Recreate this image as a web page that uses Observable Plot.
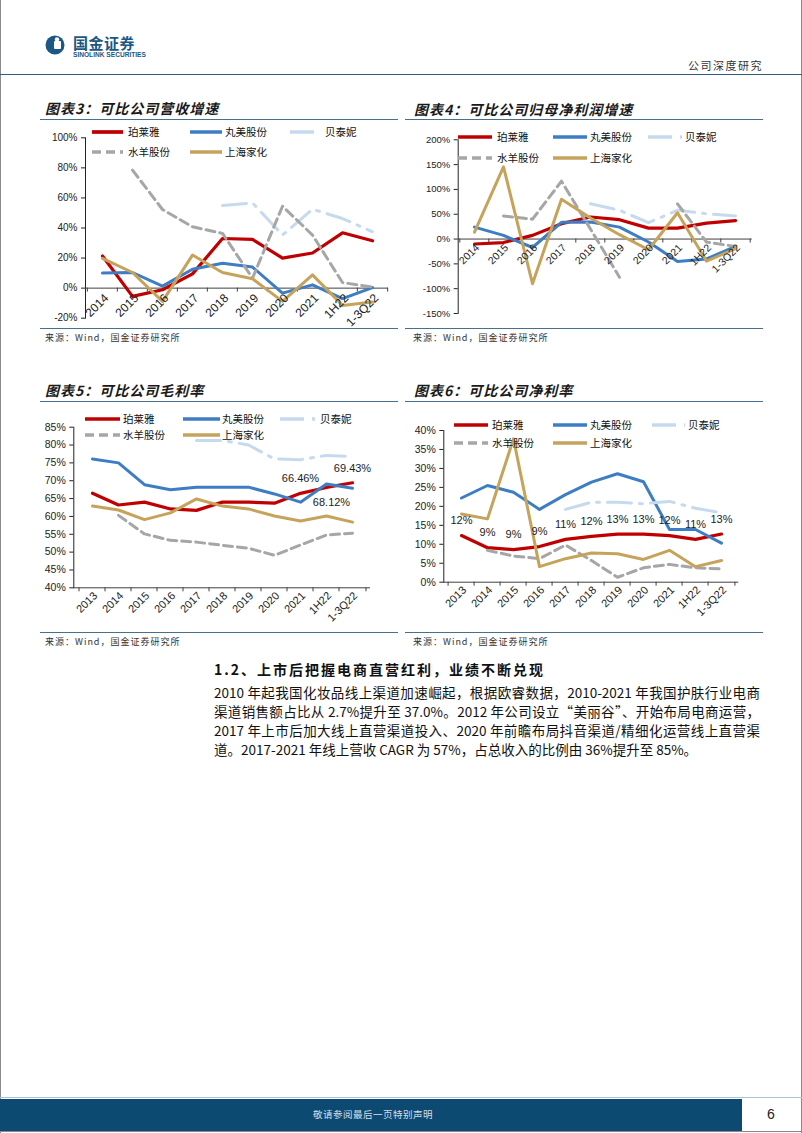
<!DOCTYPE html>
<html><head><meta charset="utf-8">
<script src="https://cdn.jsdelivr.net/npm/d3@7"></script>
<script src="https://cdn.jsdelivr.net/npm/@observablehq/plot@0.6"></script>
<style>
body{margin:0;background:#fff;}
#page{position:relative;width:802px;height:1133px;overflow:hidden;font-family:"Noto Sans CJK SC","Noto Sans",sans-serif;color:#111;}
.abs{position:absolute;white-space:nowrap;}
.title{position:absolute;font-weight:bold;font-style:italic;font-size:14px;letter-spacing:1px;color:#1a1a1a;line-height:18px;white-space:nowrap;}
.rule{position:absolute;height:0;border-top:1.5px solid #44718f;}
.src{position:absolute;font-size:9px;color:#333;letter-spacing:1px;line-height:12px;white-space:nowrap;}
.leg{position:absolute;font-size:10.5px;color:#111;white-space:nowrap;line-height:12px;}
.plot{position:absolute;}
.para{position:absolute;left:214px;width:546px;font-size:13.5px;line-height:19px;color:#111;text-align:justify;text-align-last:justify;white-space:nowrap;}
.para.last{text-align-last:left;}
</style>
</head><body>
<div id="page">
  <div class="abs" style="left:0;top:0;width:0;height:1133px;border-left:1px solid #8a8a8a;"></div>
  <div class="abs" style="left:801px;top:0;width:0;height:1133px;border-left:1px solid #8a8a8a;"></div>
  <svg class="abs" style="left:45px;top:35px" width="20" height="20" viewBox="0 0 20 20">
    <circle cx="10" cy="10" r="9.5" fill="#1d5783"/>
    <rect x="9" y="6" width="7" height="8" rx="1" fill="#fff"/>
    <circle cx="12" cy="4.5" r="2.2" fill="#fff"/>
  </svg>
  <div class="abs" style="left:73px;top:34px;font-size:15px;font-weight:bold;color:#1d5783;letter-spacing:0.5px;line-height:17px;">国金证券</div>
  <div class="abs" style="left:73px;top:51px;font-size:6.6px;font-weight:bold;color:#1d5783;font-family:'Liberation Sans',Arial,sans-serif;line-height:8px;">SINOLINK SECURITIES</div>
  <div class="abs" style="left:688px;top:58px;font-size:11px;color:#333;letter-spacing:1.5px;line-height:14px;">公司深度研究</div>
  <div class="abs" style="left:0;top:74px;width:802px;height:0;border-top:1.5px solid #2f5b7c;"></div>

  <div class="title" style="left:45px;top:99px;">图表3：可比公司营收增速</div>
  <div class="rule" style="left:40px;top:119px;width:358px;"></div>
  <div class="title" style="left:414px;top:100px;">图表4：可比公司归母净利润增速</div>
  <div class="rule" style="left:405px;top:119px;width:358px;"></div>
  <div class="rule" style="left:40px;top:328px;width:358px;"></div>
  <div class="rule" style="left:405px;top:328px;width:358px;"></div>
  <div class="src" style="left:45px;top:332px;">来源：Wind，国金证券研究所</div>
  <div class="src" style="left:413px;top:332px;">来源：Wind，国金证券研究所</div>

  <div class="title" style="left:45px;top:381px;">图表5：可比公司毛利率</div>
  <div class="rule" style="left:40px;top:401px;width:358px;"></div>
  <div class="title" style="left:414px;top:381px;">图表6：可比公司净利率</div>
  <div class="rule" style="left:405px;top:401px;width:358px;"></div>
  <div class="rule" style="left:40px;top:632px;width:358px;"></div>
  <div class="rule" style="left:405px;top:632px;width:358px;"></div>
  <div class="src" style="left:45px;top:636px;">来源：Wind，国金证券研究所</div>
  <div class="src" style="left:413px;top:636px;">来源：Wind，国金证券研究所</div>

  <div class="abs" style="left:214px;top:660px;font-size:14px;font-weight:bold;letter-spacing:2px;line-height:18px;">1.2、上市后把握电商直营红利，业绩不断兑现</div>
  <div class="para" style="top:683px;">2010 年起我国化妆品线上渠道加速崛起，根据欧睿数据，2010-2021 年我国护肤行业电商</div>
  <div class="para" style="top:702px;">渠道销售额占比从 2.7%提升至 37.0%。2012 年公司设立“美丽谷”、开始布局电商运营，</div>
  <div class="para" style="top:721px;">2017 年上市后加大线上直营渠道投入、2020 年前瞻布局抖音渠道/精细化运营线上直营渠</div>
  <div class="para last" style="top:740px;">道。2017-2021 年线上营收 CAGR 为 57%，占总收入的比例由 36%提升至 85%。</div>

  <div class="abs" style="left:0;top:1097px;width:802px;height:0;border-top:1px solid #a9c3d6;"></div>
  <div class="abs" style="left:0;top:1099px;width:742px;height:32px;background:#0d4a72;"></div>
  <div class="abs" style="left:313px;top:1108px;font-size:9.5px;color:#d5dfe8;letter-spacing:0.5px;line-height:12px;">敬请参阅最后一页特别声明</div>
  <div class="abs" style="left:767px;top:1106px;font-size:14px;color:#222;font-family:'Liberation Sans',Arial,sans-serif;line-height:16px;">6</div>
  <div class="abs" style="left:0;top:1131px;width:802px;height:0;border-top:1.5px solid #8a8a8a;"></div>
</div>
<script>
// ---------- data ----------
const names = ["珀莱雅", "丸美股份", "贝泰妮", "水羊股份", "上海家化"];
const colors = ["#C00000", "#3D7DC3", "#C6DAEE", "#A6A6A6", "#C6A35B"];
const widths = [3.2, 3, 3, 3, 3];
const dashes = [null, null, "24,8,3,8", "9,5", null];

const cats10 = ["2014", "2015", "2016", "2017", "2018", "2019", "2020", "2021", "1H22", "1-3Q22"];
const cats11 = ["2013", "2014", "2015", "2016", "2017", "2018", "2019", "2020", "2021", "1H22", "1-3Q22"];

// 图表3 营收增速 (%)
const rev_proya    = [21.4, -5.5, -1.1, 9.5, 33.0, 32.4, 20.0, 23.4, 36.8, 31.5];
const rev_marubi   = [10.0, 10.4, 1.3, 12.6, 16.5, 14.0, -3.3, 2.2, -7.0, 0.4];
const rev_botanee  = [null, null, null, null, 55.0, 56.7, 35.3, 52.5, 46.3, 37.5];
const rev_yujiahui = [null, 78.5, 52.3, 40.8, 36.4, 6.6, 54.5, 35.3, 3.7, 0.7];
const rev_jahwa    = [19.8, 10.4, -8.8, 22.0, 10.4, 6.2, -8.8, 8.8, -11.5, -9.3];
const rev_ticks = [-20, 0, 20, 40, 60, 80, 100];

// 图表4 归母净利润增速 (%)
const np_proya    = [-10, -7, 7.4, 31, 44.5, 39, 22, 22, 32, 37];
const np_marubi   = [24, 7.4, -17, 33.7, 34.4, 24, -6, -45, -40, -15];
const np_botanee  = [null, null, null, null, 71, 58, 33, 58, 51, 46.5];
const np_yujiahui = [null, 46.5, 40, 116.6, 20, -77, null, 71, -6, -15];
const np_jahwa    = [14, 145.5, -90, 80, 42.5, 8.8, -21.6, 53, -44.5, -19.5];
const np_ticks = [-150, -100, -50, 0, 50, 100, 150, 200];

// 图表5 毛利率 (%)
const gm_proya    = [66.5, 63.2, 64.0, 62.1, 61.7, 64.0, 64.0, 63.7, 66.46, 68.12, 69.43];
const gm_marubi   = [76.1, 75.0, 68.9, 67.5, 68.2, 68.2, 68.2, 66.3, 64.0, 69.1, 67.9];
const gm_botanee  = [null, null, null, null, 81.3, 81.3, 80.0, 76.1, 75.9, 77.1, 76.8];
const gm_yujiahui = [null, 60.3, 55.1, 53.3, 52.8, 51.9, 51.1, 49.1, 52.0, 54.8, 55.3];
const gm_jahwa    = [62.9, 61.8, 59.1, 61.0, 64.9, 62.9, 62.1, 60.1, 58.7, 60.1, 58.4];
const gm_ticks = [40, 45, 50, 55, 60, 65, 70, 75, 80, 85];
const gm_label_cats = ["2021", "1H22", "1-3Q22"];

// 图表6 净利率 (%)
const nm_proya    = [12.3, 9.1, 8.6, 9.4, 11.3, 12.1, 12.7, 12.7, 12.3, 11.3, 12.7];
const nm_marubi   = [22.2, 25.5, 23.7, 19.2, 23.1, 26.4, 28.6, 26.5, 13.9, 13.9, 10.3];
const nm_botanee  = [null, null, null, null, 19.2, 21.1, 21.1, 20.7, 21.3, 19.5, 18.3];
const nm_yujiahui = [null, 8.4, 6.9, 6.2, 9.8, 5.7, 1.3, 3.8, 4.7, 3.8, 3.5];
const nm_jahwa    = [18.0, 16.7, 37.8, 4.1, 6.2, 7.7, 7.5, 6.0, 8.4, 4.1, 5.7];
const nm_ticks = [0, 5, 10, 15, 20, 25, 30, 35, 40];

// ---------- helpers ----------
const page = document.getElementById("page");
const numFont = "'Liberation Sans', Arial, sans-serif";

function makeChart(o) {
  const rows = [];
  o.series.forEach((vals, i) => vals.forEach((v, j) => rows.push({cat: o.cats[j], name: names[i], value: v})));
  const step = (o.width - o.ml - o.mr) / o.cats.length;
  const base = o.base;
  const marks = [
    Plot.ruleY([base], {stroke: "#404040", strokeWidth: 1}),
    Plot.ruleX(o.cats, {x: d => d, y1: () => base, y2: () => base, insetBottom: -4, dx: -step / 2, stroke: "#404040"}),
    Plot.ruleX(o.cats.slice(-1), {x: d => d, y1: () => base, y2: () => base, insetBottom: -4, dx: step / 2, stroke: "#404040"})
  ];
  names.forEach((n, i) => {
    const opt = {x: "cat", y: "value", stroke: colors[i], strokeWidth: widths[i]};
    if (dashes[i]) opt.strokeDasharray = dashes[i];
    marks.push(Plot.line(rows.filter(r => r.name === n), opt));
  });
  marks.push(Plot.text(o.cats, {x: d => d, y: () => base, text: d => d, rotate: -45, textAnchor: "end",
    dx: o.ldx, dy: o.ldy, fontSize: o.xfs, fill: "#222", fontFamily: numFont}));
  (o.extra || []).forEach(m => marks.push(m));
  const svg = Plot.plot({
    width: o.width, height: o.height,
    marginLeft: o.ml, marginRight: o.mr, marginTop: o.mt, marginBottom: o.mb,
    style: {fontFamily: numFont, fontSize: o.yfs + "px", color: "#222", background: "transparent", overflow: "visible"},
    x: {type: "point", domain: o.cats, padding: 0.5, axis: null},
    y: {domain: o.yDomain, ticks: o.yTicks, tickFormat: d => d + "%", tickSize: 4, tickPadding: 4, line: true, label: null},
    marks
  });
  svg.classList.add("plot");
  svg.style.left = o.left + "px";
  svg.style.top = o.top + "px";
  page.appendChild(svg);
}

function legend(cols, y1, y2) {
  const pos = [[cols[0], y1], [cols[1], y1], [cols[2], y1], [cols[0], y2], [cols[1], y2]];
  names.forEach((n, i) => {
    const [c, y] = pos[i];
    const w = c[1] - c[0];
    const s = document.createElementNS("http://www.w3.org/2000/svg", "svg");
    s.setAttribute("width", w); s.setAttribute("height", 6);
    s.style.position = "absolute"; s.style.left = c[0] + "px"; s.style.top = (y - 3) + "px";
    const l = document.createElementNS("http://www.w3.org/2000/svg", "line");
    l.setAttribute("x1", 0); l.setAttribute("x2", w); l.setAttribute("y1", 3); l.setAttribute("y2", 3);
    l.setAttribute("stroke", colors[i]); l.setAttribute("stroke-width", widths[i] + 0.5);
    if (dashes[i]) l.setAttribute("stroke-dasharray", dashes[i]);
    s.appendChild(l); page.appendChild(s);
    const t = document.createElement("div");
    t.className = "leg"; t.textContent = n;
    t.style.left = c[2] + "px"; t.style.top = (y - 6) + "px";
    page.appendChild(t);
  });
}

// ---------- charts ----------
makeChart({left: 40, top: 125, width: 358, height: 200, ml: 45, mr: 10, mt: 12.3, mb: 7.3,
  cats: cats10, series: [rev_proya, rev_marubi, rev_botanee, rev_yujiahui, rev_jahwa],
  yDomain: [-20, 100], yTicks: rev_ticks, base: 0, yfs: 10, xfs: 12, ldx: 4, ldy: 8});

makeChart({left: 405, top: 125, width: 358, height: 200, ml: 52.7, mr: 11.3, mt: 14.3, mb: 12,
  cats: cats10, series: [np_proya, np_marubi, np_botanee, np_yujiahui, np_jahwa],
  yDomain: [-150, 200], yTicks: np_ticks, base: 0, yfs: 9.5, xfs: 10.5, ldx: 3, ldy: 7});

const gmLabels = gm_label_cats.map(c => ({cat: c, value: gm_proya[cats11.indexOf(c)]}));
makeChart({left: 40, top: 410, width: 358, height: 215, ml: 33.3, mr: 28, mt: 16.7, mb: 37.7,
  cats: cats11, series: [gm_proya, gm_marubi, gm_botanee, gm_yujiahui, gm_jahwa],
  yDomain: [40, 85], yTicks: gm_ticks, base: 40, yfs: 10.5, xfs: 11, ldx: 3, ldy: 6,
  extra: [
    Plot.text(gmLabels.filter(d => d.cat !== "1H22"), {x: "cat", y: "value", text: d => d.value.toFixed(2) + "%", dy: -14.5, fontSize: 11, fill: "#222", fontFamily: numFont}),
    Plot.text(gmLabels.filter(d => d.cat === "1H22"), {x: "cat", y: "value", text: d => d.value.toFixed(2) + "%", dx: 5, dy: 15, fontSize: 11, fill: "#222", fontFamily: numFont})
  ]});

makeChart({left: 405, top: 410, width: 358, height: 215, ml: 38.3, mr: 24.7, mt: 20, mb: 43.3,
  cats: cats11, series: [nm_proya, nm_marubi, nm_botanee, nm_yujiahui, nm_jahwa],
  yDomain: [0, 40], yTicks: nm_ticks, base: 0, yfs: 10.5, xfs: 11, ldx: 3, ldy: 6,
  extra: [
    Plot.text(nm_proya.map((v, j) => ({cat: cats11[j], value: v})), {x: "cat", y: "value", text: d => Math.round(d.value) + "%", dy: -15, fontSize: 11, fill: "#222", fontFamily: numFont})
  ]});

legend([[92, 123, 128], [190, 222, 225], [290, 320, 325]], 132.3, 152.3);
legend([[458, 492, 497], [553, 587, 590], [648, 682, 685]], 137.3, 158.3);
legend([[85, 120, 123], [183, 220, 222], [280, 317, 320]], 419.3, 435);
legend([[454, 488, 492], [553, 587, 590], [652, 685, 688]], 425, 443.3);
</script>
</body></html>
